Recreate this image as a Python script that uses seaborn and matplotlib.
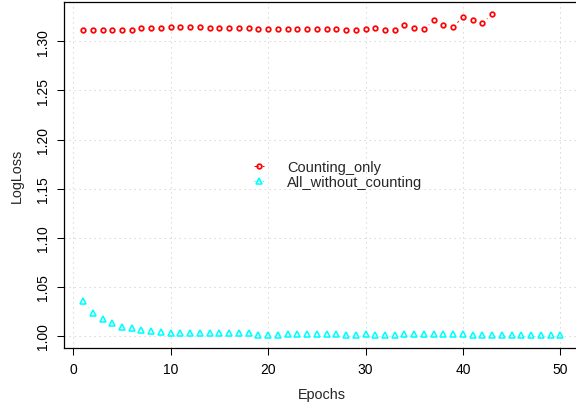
import matplotlib
matplotlib.use("Agg")
import matplotlib.pyplot as plt
import seaborn as sns
import pandas as pd
from matplotlib.lines import Line2D
from matplotlib.legend_handler import HandlerLine2D

# ---------------- data ----------------
epochs_counting = list(range(1, 44))
counting_only = [
    1.3118, 1.3118, 1.3118, 1.3118, 1.3118, 1.3118, 1.3135, 1.3135, 1.3135, 1.3145,
    1.3145, 1.3145, 1.3142, 1.3139, 1.3139, 1.3132, 1.3132, 1.3132, 1.3128, 1.3128,
    1.3125, 1.3125, 1.3125, 1.3125, 1.3122, 1.3122, 1.3125, 1.3118, 1.3118, 1.3122,
    1.3132, 1.3115, 1.3115, 1.3169, 1.3132, 1.3122, 1.3213, 1.3169, 1.3145, 1.3250,
    1.3213, 1.3189, 1.3274,
]
epochs_all = list(range(1, 51))
all_without_counting = [
    1.0352, 1.0237, 1.0169, 1.0128, 1.0095, 1.0077, 1.0064, 1.0047, 1.0041, 1.0034,
    1.0030, 1.0030, 1.0030, 1.0029, 1.0029, 1.0030, 1.0030, 1.0030, 1.0013, 1.0013,
    1.0013, 1.0015, 1.0015, 1.0018, 1.0018, 1.0018, 1.0018, 1.0010, 1.0010, 1.0016,
    1.0010, 1.0010, 1.0010, 1.0016, 1.0016, 1.0016, 1.0016, 1.0016, 1.0016, 1.0016,
    1.0010, 1.0010, 1.0010, 1.0010, 1.0010, 1.0010, 1.0010, 1.0010, 1.0010, 1.0010,
]
series_labels = ["Counting_only", "All_without_counting"]
x_ticks = [0, 10, 20, 30, 40, 50]
y_ticks = [1.00, 1.05, 1.10, 1.15, 1.20, 1.25, 1.30]
x_label = "Epochs"
y_label = "LogLoss"

df_c = pd.DataFrame({"epoch": epochs_counting, "logloss": counting_only})
df_a = pd.DataFrame({"epoch": epochs_all, "logloss": all_without_counting})

# ---------------- style ----------------
sns.set_style("ticks")
plt.rcParams["font.family"] = ["Liberation Sans", "DejaVu Sans"]
plt.rcParams["font.size"] = 10

RED = "#FF0000"
CYAN = "#00FFFF"
C_MS, C_MEW = 3.3, 1.25
T_MS, T_MEW = 4.3, 1.15

fig = plt.figure(figsize=(5.76, 4.06), dpi=100)
W, H = 576.0, 406.0
left_px, right_px, top_px, bot_px = 63.95, 579.4, 2.7, 349.0
ax = fig.add_axes([left_px / W, (H - bot_px) / H,
                   (right_px - left_px) / W, (bot_px - top_px) / H])

# connecting lines (type="b" look)
sns.lineplot(data=df_c, x="epoch", y="logloss", ax=ax, color=RED, lw=0.75,
             linestyle=(0, (4, 4)), zorder=1.0, legend=False)
sns.lineplot(data=df_a, x="epoch", y="logloss", ax=ax, color=CYAN, lw=0.75,
             linestyle=(0, (1, 3)), zorder=1.0, legend=False)
# white gaps around the points
for d in (df_c, df_a):
    sns.scatterplot(data=d, x="epoch", y="logloss", ax=ax, s=8.8 ** 2,
                    color="white", edgecolor="none", linewidth=0, zorder=1.2,
                    legend=False)
# point symbols
sns.lineplot(data=df_c, x="epoch", y="logloss", ax=ax, linestyle="",
             marker="o", markersize=C_MS, mfc="none", mec=RED, mew=C_MEW,
             zorder=3, legend=False)
sns.lineplot(data=df_a, x="epoch", y="logloss", ax=ax, linestyle="",
             marker="^", markersize=T_MS, mfc="none", mec=CYAN, mew=T_MEW,
             zorder=3, legend=False)

ax.set_xlim(-0.96, 51.96)
ax.set_ylim(0.9877, 1.3404)
ax.set_xticks(x_ticks)
ax.set_xticklabels([str(v) for v in x_ticks])
ax.set_yticks(y_ticks)
ax.set_yticklabels([f"{v:.2f}" for v in y_ticks], rotation=90, va="center")

ax.set_axisbelow("line")
ax.grid(True, color="#D3D3D3", lw=0.75, linestyle=(0, (1.2, 3.6)))

for s in ax.spines.values():
    s.set_visible(True)
    s.set_color("black")
    s.set_linewidth(0.9)
ax.tick_params(axis="both", direction="out", length=5, width=0.75,
               color="black", labelsize=10, labelcolor="black", pad=5)

ax.set_xlabel(x_label, fontsize=10.4)
ax.set_ylabel(y_label, fontsize=10.4)
ax.xaxis.label.set_va("center")
ax.yaxis.label.set_va("center")
ax.xaxis.set_label_coords(0.5, (bot_px - 395) / (bot_px - top_px))
ax.yaxis.set_label_coords((17 - left_px) / (right_px - left_px), 0.5)


class LeftLineHandler(HandlerLine2D):
    """Short line segment on the left, symbol after it (R legend look)."""
    def get_xdata(self, legend, xdescent, ydescent, width, height, fontsize):
        xm = -xdescent + 0.42 * width
        return [-xdescent, xm], [xm]


handles = [
    Line2D([], [], color=RED, lw=0.75, linestyle=(0, (4, 4)), marker="o",
           markersize=C_MS, mfc="none", mec=RED, mew=C_MEW),
    Line2D([], [], color=CYAN, lw=0.75, linestyle=(0, (1, 3)), marker="^",
           markersize=T_MS, mfc="none", mec=CYAN, mew=T_MEW),
]
leg = fig.legend(handles, series_labels, loc="upper left",
                 bbox_to_anchor=(254 / W, 1 - 161 / H), frameon=False,
                 fontsize=10.5, handlelength=1.6, handletextpad=0.65,
                 labelspacing=0.05, borderpad=0, borderaxespad=0, numpoints=1,
                 handler_map={Line2D: LeftLineHandler()})

fig.savefig("out.png", dpi=100)
